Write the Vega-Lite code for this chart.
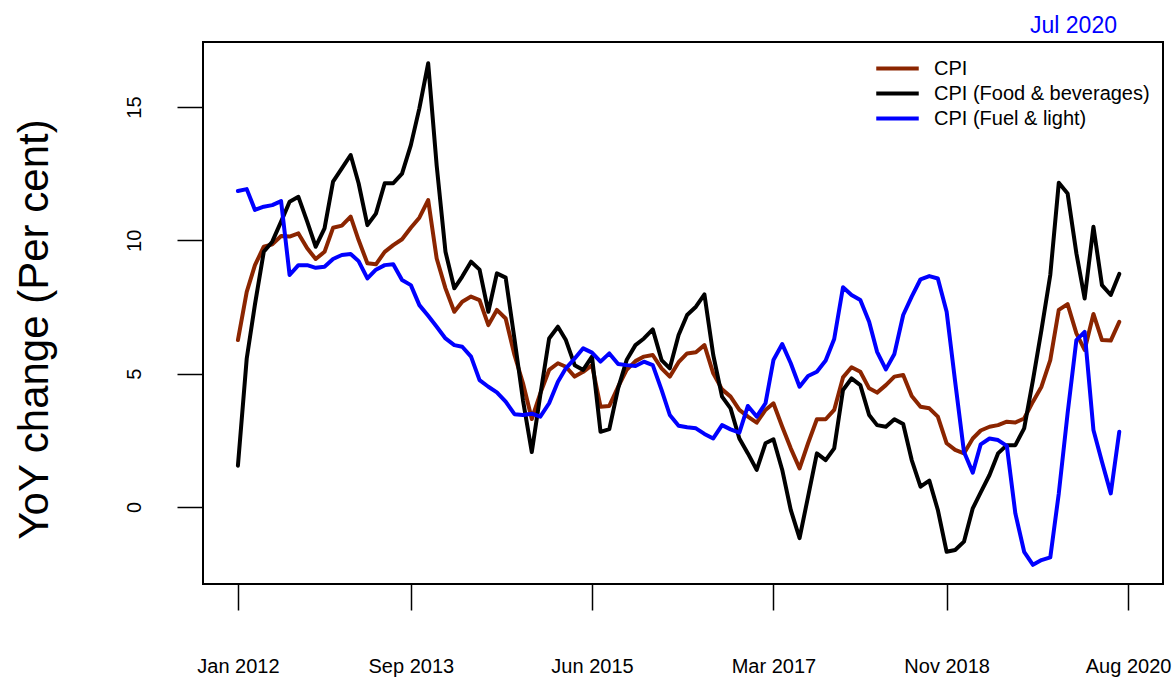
{
"$schema": "https://vega.github.io/schema/vega-lite/v6.json",
"width": 960, "height": 542,
"autosize": {"type": "none"},
"padding": {"left": 203, "top": 42, "right": 10, "bottom": 94},
"background": "white",
"config": {"view": {"stroke": "black", "strokeWidth": 2}, "font": "Liberation Sans"},
"title": {"text": "Jul 2020", "anchor": "end", "frame": "group", "color": "blue", "fontSize": 23, "fontWeight": "normal", "font": "Liberation Sans", "dx": -46, "dy": 23, "offset": 9, "baseline": "alphabetic"},
"data": {"values": [
{"date":"2012-01-01","series":"CPI","value":6.26},{"date":"2012-02-01","series":"CPI","value":8.07},{"date":"2012-03-01","series":"CPI","value":9.07},{"date":"2012-04-01","series":"CPI","value":9.76},{"date":"2012-05-01","series":"CPI","value":9.85},{"date":"2012-06-01","series":"CPI","value":10.16},{"date":"2012-07-01","series":"CPI","value":10.14},{"date":"2012-08-01","series":"CPI","value":10.26},{"date":"2012-09-01","series":"CPI","value":9.7},{"date":"2012-10-01","series":"CPI","value":9.3},{"date":"2012-11-01","series":"CPI","value":9.57},{"date":"2012-12-01","series":"CPI","value":10.47},
{"date":"2013-01-01","series":"CPI","value":10.55},{"date":"2013-02-01","series":"CPI","value":10.89},{"date":"2013-03-01","series":"CPI","value":10.01},{"date":"2013-04-01","series":"CPI","value":9.14},{"date":"2013-05-01","series":"CPI","value":9.1},{"date":"2013-06-01","series":"CPI","value":9.57},{"date":"2013-07-01","series":"CPI","value":9.82},{"date":"2013-08-01","series":"CPI","value":10.04},{"date":"2013-09-01","series":"CPI","value":10.47},{"date":"2013-10-01","series":"CPI","value":10.85},{"date":"2013-11-01","series":"CPI","value":11.51},{"date":"2013-12-01","series":"CPI","value":9.32},
{"date":"2014-01-01","series":"CPI","value":8.2},{"date":"2014-02-01","series":"CPI","value":7.32},{"date":"2014-03-01","series":"CPI","value":7.7},{"date":"2014-04-01","series":"CPI","value":7.89},{"date":"2014-05-01","series":"CPI","value":7.76},{"date":"2014-06-01","series":"CPI","value":6.82},{"date":"2014-07-01","series":"CPI","value":7.39},{"date":"2014-08-01","series":"CPI","value":7.07},{"date":"2014-09-01","series":"CPI","value":5.7},{"date":"2014-10-01","series":"CPI","value":4.64},{"date":"2014-11-01","series":"CPI","value":3.3},{"date":"2014-12-01","series":"CPI","value":4.26},
{"date":"2015-01-01","series":"CPI","value":5.14},{"date":"2015-02-01","series":"CPI","value":5.39},{"date":"2015-03-01","series":"CPI","value":5.26},{"date":"2015-04-01","series":"CPI","value":4.89},{"date":"2015-05-01","series":"CPI","value":5.07},{"date":"2015-06-01","series":"CPI","value":5.32},{"date":"2015-07-01","series":"CPI","value":3.76},{"date":"2015-08-01","series":"CPI","value":3.79},{"date":"2015-09-01","series":"CPI","value":4.51},{"date":"2015-10-01","series":"CPI","value":5.14},{"date":"2015-11-01","series":"CPI","value":5.47},{"date":"2015-12-01","series":"CPI","value":5.64},
{"date":"2016-01-01","series":"CPI","value":5.7},{"date":"2016-02-01","series":"CPI","value":5.2},{"date":"2016-03-01","series":"CPI","value":4.89},{"date":"2016-04-01","series":"CPI","value":5.43},{"date":"2016-05-01","series":"CPI","value":5.76},{"date":"2016-06-01","series":"CPI","value":5.8},{"date":"2016-07-01","series":"CPI","value":6.07},{"date":"2016-08-01","series":"CPI","value":5.01},{"date":"2016-09-01","series":"CPI","value":4.41},{"date":"2016-10-01","series":"CPI","value":4.14},{"date":"2016-11-01","series":"CPI","value":3.64},{"date":"2016-12-01","series":"CPI","value":3.39},
{"date":"2017-01-01","series":"CPI","value":3.16},{"date":"2017-02-01","series":"CPI","value":3.64},{"date":"2017-03-01","series":"CPI","value":3.89},{"date":"2017-04-01","series":"CPI","value":3.01},{"date":"2017-05-01","series":"CPI","value":2.2},{"date":"2017-06-01","series":"CPI","value":1.45},{"date":"2017-07-01","series":"CPI","value":2.39},{"date":"2017-08-01","series":"CPI","value":3.29},{"date":"2017-09-01","series":"CPI","value":3.29},{"date":"2017-10-01","series":"CPI","value":3.64},{"date":"2017-11-01","series":"CPI","value":4.86},{"date":"2017-12-01","series":"CPI","value":5.24},
{"date":"2018-01-01","series":"CPI","value":5.07},{"date":"2018-02-01","series":"CPI","value":4.45},{"date":"2018-03-01","series":"CPI","value":4.29},{"date":"2018-04-01","series":"CPI","value":4.57},{"date":"2018-05-01","series":"CPI","value":4.89},{"date":"2018-06-01","series":"CPI","value":4.95},{"date":"2018-07-01","series":"CPI","value":4.16},{"date":"2018-08-01","series":"CPI","value":3.76},{"date":"2018-09-01","series":"CPI","value":3.7},{"date":"2018-10-01","series":"CPI","value":3.39},{"date":"2018-11-01","series":"CPI","value":2.39},{"date":"2018-12-01","series":"CPI","value":2.14},
{"date":"2019-01-01","series":"CPI","value":2.01},{"date":"2019-02-01","series":"CPI","value":2.57},{"date":"2019-03-01","series":"CPI","value":2.87},{"date":"2019-04-01","series":"CPI","value":3.01},{"date":"2019-05-01","series":"CPI","value":3.07},{"date":"2019-06-01","series":"CPI","value":3.2},{"date":"2019-07-01","series":"CPI","value":3.17},{"date":"2019-08-01","series":"CPI","value":3.32},{"date":"2019-09-01","series":"CPI","value":3.95},{"date":"2019-10-01","series":"CPI","value":4.51},{"date":"2019-11-01","series":"CPI","value":5.51},{"date":"2019-12-01","series":"CPI","value":7.39},
{"date":"2020-01-01","series":"CPI","value":7.61},{"date":"2020-02-01","series":"CPI","value":6.51},{"date":"2020-03-01","series":"CPI","value":5.89},{"date":"2020-04-01","series":"CPI","value":7.24},{"date":"2020-05-01","series":"CPI","value":6.26},{"date":"2020-06-01","series":"CPI","value":6.24},{"date":"2020-07-01","series":"CPI","value":6.94},
{"date":"2012-01-01","series":"CPI (Food & beverages)","value":1.55},{"date":"2012-02-01","series":"CPI (Food & beverages)","value":5.57},{"date":"2012-03-01","series":"CPI (Food & beverages)","value":7.6},{"date":"2012-04-01","series":"CPI (Food & beverages)","value":9.57},{"date":"2012-05-01","series":"CPI (Food & beverages)","value":9.95},{"date":"2012-06-01","series":"CPI (Food & beverages)","value":10.7},{"date":"2012-07-01","series":"CPI (Food & beverages)","value":11.45},{"date":"2012-08-01","series":"CPI (Food & beverages)","value":11.63},{"date":"2012-09-01","series":"CPI (Food & beverages)","value":10.7},{"date":"2012-10-01","series":"CPI (Food & beverages)","value":9.76},{"date":"2012-11-01","series":"CPI (Food & beverages)","value":10.45},{"date":"2012-12-01","series":"CPI (Food & beverages)","value":12.2},
{"date":"2013-01-01","series":"CPI (Food & beverages)","value":12.7},{"date":"2013-02-01","series":"CPI (Food & beverages)","value":13.2},{"date":"2013-03-01","series":"CPI (Food & beverages)","value":12.14},{"date":"2013-04-01","series":"CPI (Food & beverages)","value":10.57},{"date":"2013-05-01","series":"CPI (Food & beverages)","value":11.0},{"date":"2013-06-01","series":"CPI (Food & beverages)","value":12.14},{"date":"2013-07-01","series":"CPI (Food & beverages)","value":12.14},{"date":"2013-08-01","series":"CPI (Food & beverages)","value":12.5},{"date":"2013-09-01","series":"CPI (Food & beverages)","value":13.57},{"date":"2013-10-01","series":"CPI (Food & beverages)","value":14.95},{"date":"2013-11-01","series":"CPI (Food & beverages)","value":16.64},{"date":"2013-12-01","series":"CPI (Food & beverages)","value":12.8},
{"date":"2014-01-01","series":"CPI (Food & beverages)","value":9.57},{"date":"2014-02-01","series":"CPI (Food & beverages)","value":8.2},{"date":"2014-03-01","series":"CPI (Food & beverages)","value":8.64},{"date":"2014-04-01","series":"CPI (Food & beverages)","value":9.2},{"date":"2014-05-01","series":"CPI (Food & beverages)","value":8.9},{"date":"2014-06-01","series":"CPI (Food & beverages)","value":7.32},{"date":"2014-07-01","series":"CPI (Food & beverages)","value":8.76},{"date":"2014-08-01","series":"CPI (Food & beverages)","value":8.6},{"date":"2014-09-01","series":"CPI (Food & beverages)","value":6.3},{"date":"2014-10-01","series":"CPI (Food & beverages)","value":4.0},{"date":"2014-11-01","series":"CPI (Food & beverages)","value":2.06},{"date":"2014-12-01","series":"CPI (Food & beverages)","value":4.2},
{"date":"2015-01-01","series":"CPI (Food & beverages)","value":6.32},{"date":"2015-02-01","series":"CPI (Food & beverages)","value":6.76},{"date":"2015-03-01","series":"CPI (Food & beverages)","value":6.26},{"date":"2015-04-01","series":"CPI (Food & beverages)","value":5.32},{"date":"2015-05-01","series":"CPI (Food & beverages)","value":5.14},{"date":"2015-06-01","series":"CPI (Food & beverages)","value":5.64},{"date":"2015-07-01","series":"CPI (Food & beverages)","value":2.82},{"date":"2015-08-01","series":"CPI (Food & beverages)","value":2.92},{"date":"2015-09-01","series":"CPI (Food & beverages)","value":4.45},{"date":"2015-10-01","series":"CPI (Food & beverages)","value":5.51},{"date":"2015-11-01","series":"CPI (Food & beverages)","value":6.07},{"date":"2015-12-01","series":"CPI (Food & beverages)","value":6.32},
{"date":"2016-01-01","series":"CPI (Food & beverages)","value":6.66},{"date":"2016-02-01","series":"CPI (Food & beverages)","value":5.51},{"date":"2016-03-01","series":"CPI (Food & beverages)","value":5.2},{"date":"2016-04-01","series":"CPI (Food & beverages)","value":6.45},{"date":"2016-05-01","series":"CPI (Food & beverages)","value":7.2},{"date":"2016-06-01","series":"CPI (Food & beverages)","value":7.51},{"date":"2016-07-01","series":"CPI (Food & beverages)","value":7.97},{"date":"2016-08-01","series":"CPI (Food & beverages)","value":5.7},{"date":"2016-09-01","series":"CPI (Food & beverages)","value":4.14},{"date":"2016-10-01","series":"CPI (Food & beverages)","value":3.7},{"date":"2016-11-01","series":"CPI (Food & beverages)","value":2.57},{"date":"2016-12-01","series":"CPI (Food & beverages)","value":2.01},
{"date":"2017-01-01","series":"CPI (Food & beverages)","value":1.39},{"date":"2017-02-01","series":"CPI (Food & beverages)","value":2.39},{"date":"2017-03-01","series":"CPI (Food & beverages)","value":2.54},{"date":"2017-04-01","series":"CPI (Food & beverages)","value":1.39},{"date":"2017-05-01","series":"CPI (Food & beverages)","value":-0.11},{"date":"2017-06-01","series":"CPI (Food & beverages)","value":-1.17},{"date":"2017-07-01","series":"CPI (Food & beverages)","value":0.39},{"date":"2017-08-01","series":"CPI (Food & beverages)","value":2.01},{"date":"2017-09-01","series":"CPI (Food & beverages)","value":1.76},{"date":"2017-10-01","series":"CPI (Food & beverages)","value":2.2},{"date":"2017-11-01","series":"CPI (Food & beverages)","value":4.39},{"date":"2017-12-01","series":"CPI (Food & beverages)","value":4.82},
{"date":"2018-01-01","series":"CPI (Food & beverages)","value":4.57},{"date":"2018-02-01","series":"CPI (Food & beverages)","value":3.45},{"date":"2018-03-01","series":"CPI (Food & beverages)","value":3.07},{"date":"2018-04-01","series":"CPI (Food & beverages)","value":3.01},{"date":"2018-05-01","series":"CPI (Food & beverages)","value":3.29},{"date":"2018-06-01","series":"CPI (Food & beverages)","value":3.11},{"date":"2018-07-01","series":"CPI (Food & beverages)","value":1.76},{"date":"2018-08-01","series":"CPI (Food & beverages)","value":0.76},{"date":"2018-09-01","series":"CPI (Food & beverages)","value":0.99},{"date":"2018-10-01","series":"CPI (Food & beverages)","value":-0.11},{"date":"2018-11-01","series":"CPI (Food & beverages)","value":-1.68},{"date":"2018-12-01","series":"CPI (Food & beverages)","value":-1.61},
{"date":"2019-01-01","series":"CPI (Food & beverages)","value":-1.3},{"date":"2019-02-01","series":"CPI (Food & beverages)","value":-0.05},{"date":"2019-03-01","series":"CPI (Food & beverages)","value":0.55},{"date":"2019-04-01","series":"CPI (Food & beverages)","value":1.2},{"date":"2019-05-01","series":"CPI (Food & beverages)","value":2.01},{"date":"2019-06-01","series":"CPI (Food & beverages)","value":2.32},{"date":"2019-07-01","series":"CPI (Food & beverages)","value":2.32},{"date":"2019-08-01","series":"CPI (Food & beverages)","value":2.95},{"date":"2019-09-01","series":"CPI (Food & beverages)","value":4.76},{"date":"2019-10-01","series":"CPI (Food & beverages)","value":6.64},{"date":"2019-11-01","series":"CPI (Food & beverages)","value":8.7},{"date":"2019-12-01","series":"CPI (Food & beverages)","value":12.16},
{"date":"2020-01-01","series":"CPI (Food & beverages)","value":11.76},{"date":"2020-02-01","series":"CPI (Food & beverages)","value":9.51},{"date":"2020-03-01","series":"CPI (Food & beverages)","value":7.82},{"date":"2020-04-01","series":"CPI (Food & beverages)","value":10.51},{"date":"2020-05-01","series":"CPI (Food & beverages)","value":8.32},{"date":"2020-06-01","series":"CPI (Food & beverages)","value":7.95},{"date":"2020-07-01","series":"CPI (Food & beverages)","value":8.74},
{"date":"2012-01-01","series":"CPI (Fuel & light)","value":11.85},{"date":"2012-02-01","series":"CPI (Fuel & light)","value":11.92},{"date":"2012-03-01","series":"CPI (Fuel & light)","value":11.14},{"date":"2012-04-01","series":"CPI (Fuel & light)","value":11.26},{"date":"2012-05-01","series":"CPI (Fuel & light)","value":11.32},{"date":"2012-06-01","series":"CPI (Fuel & light)","value":11.47},{"date":"2012-07-01","series":"CPI (Fuel & light)","value":8.7},{"date":"2012-08-01","series":"CPI (Fuel & light)","value":9.07},{"date":"2012-09-01","series":"CPI (Fuel & light)","value":9.07},{"date":"2012-10-01","series":"CPI (Fuel & light)","value":8.97},{"date":"2012-11-01","series":"CPI (Fuel & light)","value":9.01},{"date":"2012-12-01","series":"CPI (Fuel & light)","value":9.3},
{"date":"2013-01-01","series":"CPI (Fuel & light)","value":9.45},{"date":"2013-02-01","series":"CPI (Fuel & light)","value":9.49},{"date":"2013-03-01","series":"CPI (Fuel & light)","value":9.22},{"date":"2013-04-01","series":"CPI (Fuel & light)","value":8.57},{"date":"2013-05-01","series":"CPI (Fuel & light)","value":8.9},{"date":"2013-06-01","series":"CPI (Fuel & light)","value":9.07},{"date":"2013-07-01","series":"CPI (Fuel & light)","value":9.1},{"date":"2013-08-01","series":"CPI (Fuel & light)","value":8.51},{"date":"2013-09-01","series":"CPI (Fuel & light)","value":8.32},{"date":"2013-10-01","series":"CPI (Fuel & light)","value":7.57},{"date":"2013-11-01","series":"CPI (Fuel & light)","value":7.17},{"date":"2013-12-01","series":"CPI (Fuel & light)","value":6.76},
{"date":"2014-01-01","series":"CPI (Fuel & light)","value":6.32},{"date":"2014-02-01","series":"CPI (Fuel & light)","value":6.07},{"date":"2014-03-01","series":"CPI (Fuel & light)","value":6.01},{"date":"2014-04-01","series":"CPI (Fuel & light)","value":5.64},{"date":"2014-05-01","series":"CPI (Fuel & light)","value":4.76},{"date":"2014-06-01","series":"CPI (Fuel & light)","value":4.51},{"date":"2014-07-01","series":"CPI (Fuel & light)","value":4.3},{"date":"2014-08-01","series":"CPI (Fuel & light)","value":3.95},{"date":"2014-09-01","series":"CPI (Fuel & light)","value":3.48},{"date":"2014-10-01","series":"CPI (Fuel & light)","value":3.45},{"date":"2014-11-01","series":"CPI (Fuel & light)","value":3.5},{"date":"2014-12-01","series":"CPI (Fuel & light)","value":3.39},
{"date":"2015-01-01","series":"CPI (Fuel & light)","value":3.89},{"date":"2015-02-01","series":"CPI (Fuel & light)","value":4.7},{"date":"2015-03-01","series":"CPI (Fuel & light)","value":5.2},{"date":"2015-04-01","series":"CPI (Fuel & light)","value":5.57},{"date":"2015-05-01","series":"CPI (Fuel & light)","value":5.95},{"date":"2015-06-01","series":"CPI (Fuel & light)","value":5.79},{"date":"2015-07-01","series":"CPI (Fuel & light)","value":5.45},{"date":"2015-08-01","series":"CPI (Fuel & light)","value":5.76},{"date":"2015-09-01","series":"CPI (Fuel & light)","value":5.36},{"date":"2015-10-01","series":"CPI (Fuel & light)","value":5.32},{"date":"2015-11-01","series":"CPI (Fuel & light)","value":5.29},{"date":"2015-12-01","series":"CPI (Fuel & light)","value":5.45},
{"date":"2016-01-01","series":"CPI (Fuel & light)","value":5.32},{"date":"2016-02-01","series":"CPI (Fuel & light)","value":4.39},{"date":"2016-03-01","series":"CPI (Fuel & light)","value":3.45},{"date":"2016-04-01","series":"CPI (Fuel & light)","value":3.05},{"date":"2016-05-01","series":"CPI (Fuel & light)","value":2.99},{"date":"2016-06-01","series":"CPI (Fuel & light)","value":2.95},{"date":"2016-07-01","series":"CPI (Fuel & light)","value":2.74},{"date":"2016-08-01","series":"CPI (Fuel & light)","value":2.57},{"date":"2016-09-01","series":"CPI (Fuel & light)","value":3.07},{"date":"2016-10-01","series":"CPI (Fuel & light)","value":2.91},{"date":"2016-11-01","series":"CPI (Fuel & light)","value":2.79},{"date":"2016-12-01","series":"CPI (Fuel & light)","value":3.79},
{"date":"2017-01-01","series":"CPI (Fuel & light)","value":3.39},{"date":"2017-02-01","series":"CPI (Fuel & light)","value":3.89},{"date":"2017-03-01","series":"CPI (Fuel & light)","value":5.51},{"date":"2017-04-01","series":"CPI (Fuel & light)","value":6.11},{"date":"2017-05-01","series":"CPI (Fuel & light)","value":5.39},{"date":"2017-06-01","series":"CPI (Fuel & light)","value":4.51},{"date":"2017-07-01","series":"CPI (Fuel & light)","value":4.91},{"date":"2017-08-01","series":"CPI (Fuel & light)","value":5.07},{"date":"2017-09-01","series":"CPI (Fuel & light)","value":5.49},{"date":"2017-10-01","series":"CPI (Fuel & light)","value":6.3},{"date":"2017-11-01","series":"CPI (Fuel & light)","value":8.24},{"date":"2017-12-01","series":"CPI (Fuel & light)","value":7.95},
{"date":"2018-01-01","series":"CPI (Fuel & light)","value":7.76},{"date":"2018-02-01","series":"CPI (Fuel & light)","value":6.95},{"date":"2018-03-01","series":"CPI (Fuel & light)","value":5.82},{"date":"2018-04-01","series":"CPI (Fuel & light)","value":5.16},{"date":"2018-05-01","series":"CPI (Fuel & light)","value":5.74},{"date":"2018-06-01","series":"CPI (Fuel & light)","value":7.2},{"date":"2018-07-01","series":"CPI (Fuel & light)","value":7.89},{"date":"2018-08-01","series":"CPI (Fuel & light)","value":8.54},{"date":"2018-09-01","series":"CPI (Fuel & light)","value":8.66},{"date":"2018-10-01","series":"CPI (Fuel & light)","value":8.57},{"date":"2018-11-01","series":"CPI (Fuel & light)","value":7.32},{"date":"2018-12-01","series":"CPI (Fuel & light)","value":4.7},
{"date":"2019-01-01","series":"CPI (Fuel & light)","value":2.07},{"date":"2019-02-01","series":"CPI (Fuel & light)","value":1.29},{"date":"2019-03-01","series":"CPI (Fuel & light)","value":2.35},{"date":"2019-04-01","series":"CPI (Fuel & light)","value":2.57},{"date":"2019-05-01","series":"CPI (Fuel & light)","value":2.51},{"date":"2019-06-01","series":"CPI (Fuel & light)","value":2.29},{"date":"2019-07-01","series":"CPI (Fuel & light)","value":-0.24},{"date":"2019-08-01","series":"CPI (Fuel & light)","value":-1.68},{"date":"2019-09-01","series":"CPI (Fuel & light)","value":-2.17},{"date":"2019-10-01","series":"CPI (Fuel & light)","value":-1.99},{"date":"2019-11-01","series":"CPI (Fuel & light)","value":-1.89},{"date":"2019-12-01","series":"CPI (Fuel & light)","value":0.51},
{"date":"2020-01-01","series":"CPI (Fuel & light)","value":3.51},{"date":"2020-02-01","series":"CPI (Fuel & light)","value":6.26},{"date":"2020-03-01","series":"CPI (Fuel & light)","value":6.57},{"date":"2020-04-01","series":"CPI (Fuel & light)","value":2.89},{"date":"2020-05-01","series":"CPI (Fuel & light)","value":1.7},{"date":"2020-06-01","series":"CPI (Fuel & light)","value":0.51},{"date":"2020-07-01","series":"CPI (Fuel & light)","value":2.82}
]},
"mark": {"type": "line", "strokeWidth": 4, "strokeJoin": "round", "strokeCap": "round", "clip": true},
"encoding": {
  "x": {"field": "date", "type": "temporal",
    "scale": {"type": "utc", "domain": [{"year": 2011, "month": 8, "date": 31, "utc": true}, {"year": 2020, "month": 12, "date": 2, "utc": true}]},
    "axis": {"title": null, "domain": false, "grid": false, "format": "%b %Y", "labelFontSize": 20, "labelFont": "Liberation Sans", "labelColor": "black", "tickColor": "black", "tickWidth": 1.5, "tickSize": 26, "labelPadding": 46, "labelFlush": false, "labelOverlap": false,
      "values": [{"year": 2012, "month": 1, "date": 1, "utc": true}, {"year": 2013, "month": 9, "date": 1, "utc": true}, {"year": 2015, "month": 6, "date": 1, "utc": true}, {"year": 2017, "month": 3, "date": 1, "utc": true}, {"year": 2018, "month": 11, "date": 1, "utc": true}, {"year": 2020, "month": 8, "date": 1, "utc": true}]}},
  "y": {"field": "value", "type": "quantitative",
    "scale": {"domain": [-2.8875, 17.4375], "nice": false, "zero": false},
    "axis": {"title": "YoY change (Per cent)", "titleFontSize": 42, "titleFont": "Liberation Sans", "titleFontWeight": "normal", "titleColor": "black", "titlePadding": 68, "titleY": 287,
      "domain": false, "grid": false, "values": [0, 5, 10, 15], "labelAngle": -90, "labelAlign": "center", "labelBaseline": "alphabetic", "labelFontSize": 20, "labelFont": "Liberation Sans", "labelColor": "black", "labelPadding": 37, "tickColor": "black", "tickWidth": 1.5, "tickSize": 26, "labelFlush": false}},
  "color": {"field": "series", "type": "nominal",
    "scale": {"domain": ["CPI", "CPI (Food & beverages)", "CPI (Fuel & light)"], "range": ["#8B2500", "#000000", "#0000FF"]},
    "legend": {"title": null, "orient": "none", "legendX": 684, "legendY": 16, "symbolType": "M-2.5,0H2.5", "symbolSize": 289, "symbolStrokeWidth": 4, "symbolFillColor": "transparent", "labelFontSize": 20, "labelFont": "Liberation Sans", "labelColor": "black", "labelOffset": 26, "labelLimit": 400, "rowPadding": 4}}
}
}
